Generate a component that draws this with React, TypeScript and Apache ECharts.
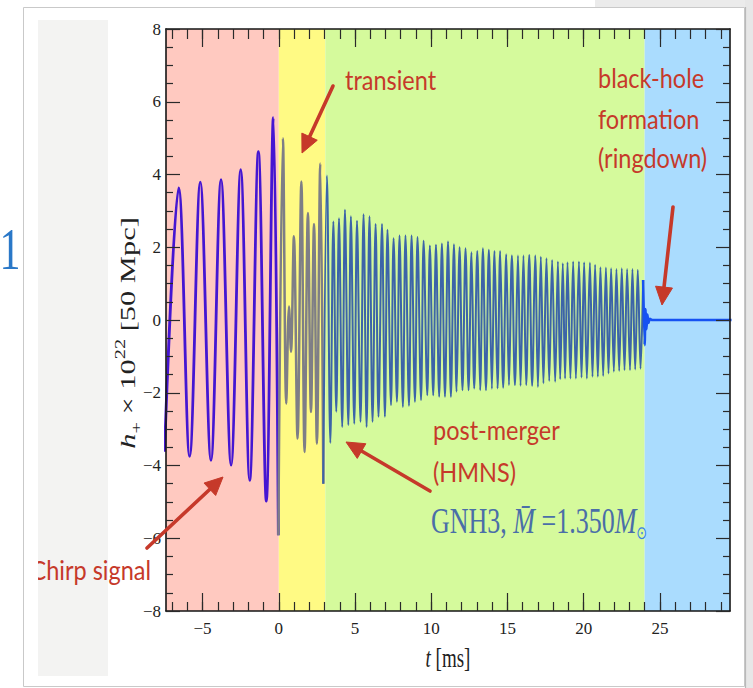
import React, { useEffect, useRef } from "react";
import * as echarts from "echarts";

const X_MIN = -7.4;
const X_MAX = 29.6;
const Y_MIN = -8;
const Y_MAX = 8;

// background phases (ms)
const regionStart = [X_MIN, 0, 3.05, 24.0];
const regionEnd = [0, 3.05, 24.0, X_MAX];

// tick positions
const xMajorTicks = [-5, 0, 5, 10, 15, 20, 25];
const xMinorTicks = [-7, -6, -5, -4, -3, -2, -1, 0, 1, 2, 3, 4, 5, 6, 7, 8, 9, 10, 11, 12, 13, 14, 15, 16, 17, 18, 19, 20, 21, 22, 23, 24, 25, 26, 27, 28, 29];

// inspiral (chirp) extrema
const chirpT = [-7.5, -6.57, -5.85, -5.15, -4.45, -3.79, -3.13, -2.5, -1.91, -1.34, -0.82, -0.36, -0.03];
const chirpH = [-3.62, 3.63, -3.75, 3.79, -3.86, 3.86, -3.99, 4.13, -4.41, 4.63, -4.98, 5.56, -5.92];

// merger transient extrema
const transientT = [-0.03, 0.27, 0.49, 0.67, 0.8, 0.99, 1.23, 1.48, 1.69, 1.91, 2.11, 2.31, 2.5, 2.72, 2.92];
const transientH = [-5.92, 5.0, -2.3, 0.37, -0.87, 2.3, -3.26, 3.81, -3.63, 2.94, -2.53, 2.64, -3.4, 4.3, -4.5];

// post-merger (HMNS) extrema
const postT = [2.92, 3.16, 3.38, 3.58, 3.77, 3.95, 4.16, 4.34, 4.56, 4.73, 4.95, 5.13, 5.36, 5.56, 5.76, 5.95, 6.15, 6.35, 6.54, 6.77, 6.96, 7.13, 7.36, 7.53, 7.75, 7.92, 8.14, 8.31, 8.54, 8.71, 8.93, 9.10, 9.33, 9.50, 9.74, 9.91, 10.13, 10.31, 10.52, 10.70, 10.90, 11.10, 11.29, 11.49, 11.66, 11.86, 12.05, 12.25, 12.45, 12.64, 12.82, 13.02, 13.21, 13.39, 13.59, 13.78, 13.98, 14.15, 14.35, 14.52, 14.72, 14.92, 15.10, 15.29, 15.49, 15.69, 15.86, 16.05, 16.23, 16.43, 16.62, 16.82, 17.00, 17.19, 17.36, 17.56, 17.74, 17.93, 18.13, 18.31, 18.46, 18.63, 18.78, 18.94, 19.13, 19.31, 19.49, 19.69, 19.86, 20.03, 20.21, 20.41, 20.58, 20.75, 20.93, 21.10, 21.28, 21.46, 21.63, 21.80, 21.98, 22.15, 22.33, 22.50, 22.68, 22.85, 23.04, 23.20, 23.38, 23.55, 23.73, 23.90];
const postH = [-4.50, 3.97, -3.38, 2.71, -2.52, 2.80, -2.94, 3.03, -2.89, 2.85, -2.85, 2.73, -2.80, 2.91, -2.94, 2.85, -2.80, 2.64, -2.66, 2.64, -2.66, 2.48, -2.34, 2.25, -2.25, 2.32, -2.39, 2.32, -2.36, 2.32, -2.25, 2.28, -2.20, 2.18, -2.07, 2.05, -2.07, 2.07, -2.11, 2.10, -2.11, 2.16, -2.11, 2.08, -1.97, 2.00, -1.93, 1.97, -1.93, 1.86, -1.88, 1.90, -1.93, 1.97, -1.93, 1.93, -1.89, 1.90, -1.88, 1.90, -1.86, 1.81, -1.79, 1.77, -1.79, 1.77, -1.81, 1.77, -1.79, 1.79, -1.81, 1.77, -1.84, 1.74, -1.74, 1.70, -1.68, 1.65, -1.70, 1.61, -1.63, 1.56, -1.61, 1.59, -1.61, 1.61, -1.61, 1.61, -1.58, 1.59, -1.61, 1.58, -1.56, 1.52, -1.56, 1.45, -1.54, 1.44, -1.47, 1.42, -1.42, 1.40, -1.40, 1.42, -1.38, 1.40, -1.38, 1.40, -1.36, 1.38, -1.34, 1.10];

// black-hole ringdown
const ringT = [23.9, 24.0, 24.06, 24.12, 24.18, 24.25, 24.35, 24.5, 29.7];
const ringH = [1.1, -0.69, 0.3, -0.25, 0.15, -0.08, 0.03, 0, 0];

const REGION_COLORS = ["#ffc9c0", "#fffa84", "#d5fa9c", "#aadcfe"];
const RED = "#c6392a";
const SERIF = "'Liberation Serif', 'DejaVu Serif', serif";
const SANS = "Lato, 'Open Sans', sans-serif";

const pairs = (t: number[], h: number[]) => t.map((v, i) => [v, h[i]]);
const fmt = (v: number) => (v < 0 ? "\u2212" + Math.abs(v) : String(v));

function arrow(x1: number, y1: number, x2: number, y2: number, head = 18, half = 8.5) {
  const dx = x2 - x1;
  const dy = y2 - y1;
  const L = Math.hypot(dx, dy);
  const ux = dx / L;
  const uy = dy / L;
  const bx = x2 - ux * head;
  const by = y2 - uy * head;
  const px = -uy;
  const py = ux;
  return [
    {
      type: "line",
      z: 100,
      shape: { x1, y1, x2: bx + ux * 3, y2: by + uy * 3 },
      style: { stroke: RED, lineWidth: 3.6, lineCap: "round" },
    },
    {
      type: "polygon",
      z: 100,
      shape: { points: [[x2, y2], [bx + px * half, by + py * half], [bx - px * half, by - py * half]] },
      style: { fill: RED, stroke: RED, lineWidth: 1, lineJoin: "round" },
    },
  ];
}

function redText(text: string, x: number, y: number, align = "left") {
  return {
    type: "text",
    z: 100,
    x,
    y,
    scaleY: 1.15,
    style: {
      x: 0,
      y: 0,
      text,
      fill: RED,
      fontSize: 23.5,
      fontFamily: SANS,
      align,
      verticalAlign: "middle",
      textAlign: align,
      textVerticalAlign: "middle",
    },
  };
}

const tickLine = { color: "#2a2a2a", width: 1.2 };
const borderLine = { color: "#151515", width: 1.6 };

function xAxisDef(position: string, ticks: number[], len: number, showLine: boolean, showLabel: boolean) {
  return {
    type: "value",
    min: X_MIN,
    max: X_MAX,
    position,
    z: 20,
    axisLine: { show: showLine, onZero: false, lineStyle: borderLine },
    axisTick: { show: true, inside: true, length: len, customValues: ticks, lineStyle: tickLine },
    axisLabel: {
      show: showLabel,
      customValues: ticks,
      formatter: fmt,
      margin: 9,
      fontFamily: SERIF,
      fontSize: 17,
      color: "#222",
    },
    splitLine: { show: false },
  };
}

function yAxisDef(position: string, showLabel: boolean) {
  return {
    type: "value",
    min: Y_MIN,
    max: Y_MAX,
    interval: 2,
    position,
    z: 20,
    axisLine: { show: true, onZero: false, lineStyle: borderLine },
    axisTick: { show: true, inside: true, length: 14, lineStyle: tickLine },
    minorTick: { show: true, splitNumber: 4, length: 7, lineStyle: tickLine },
    axisLabel: {
      show: showLabel,
      formatter: fmt,
      margin: 5,
      fontFamily: SERIF,
      fontSize: 17,
      color: "#222",
    },
    splitLine: { show: false },
    minorSplitLine: { show: false },
  };
}

export default function App() {
  const ref = useRef<HTMLDivElement>(null);

  useEffect(() => {
    document.body.style.margin = "0";
    if (!ref.current) return;
    const chart = echarts.init(ref.current, null, { renderer: "svg" });

    const lineSeries = (name: string, t: number[], h: number[], color: string, width: number, smooth: number) => ({
      name,
      type: "line",
      xAxisIndex: 0,
      yAxisIndex: 0,
      data: pairs(t, h),
      showSymbol: false,
      symbol: "none",
      smooth,
      clip: true,
      z: 3,
      lineStyle: { color, width, join: "round" },
      emphasis: { disabled: true },
    });

    const graphics: any[] = [
      // slide background pieces
      { type: "rect", z: -5, shape: { x: 595, y: 0, width: 158, height: 7 }, style: { fill: "#ebebeb" } },
      { type: "rect", z: -5, shape: { x: 745, y: 0, width: 8, height: 688 }, style: { fill: "#e7e7e7" } },
      { type: "rect", z: -4, shape: { x: 23.5, y: 7.5, width: 721, height: 679 }, style: { fill: "#ffffff", stroke: "#c9c9c9", lineWidth: 1 } },
      { type: "line", z: -4, shape: { x1: 745.5, y1: 7, x2: 745.5, y2: 688 }, style: { stroke: "#b9b9b9", lineWidth: 1.2 } },
      { type: "rect", z: -3, shape: { x: 38, y: 20, width: 70, height: 656 }, style: { fill: "#f3f3f2" } },
      {
        type: "text",
        z: 5,
        x: 10,
        y: 249,
        scaleY: 1.4,
        style: { x: 0, y: 0, text: "1", fill: "#2a78c8", fontSize: 42, fontFamily: SERIF, align: "center", verticalAlign: "middle", textAlign: "center", textVerticalAlign: "middle" },
      },
      // axis titles
      {
        type: "text",
        z: 10,
        x: 128,
        y: 333,
        rotation: Math.PI / 2,
        scaleX: 1.45,
        style: {
          x: 0,
          y: 0,
          text: "{i|h}{sub|+}{n| × 10}{sup|22}{n| [50 Mpc]}",
          fill: "#222",
          fontSize: 21,
          fontFamily: SERIF,
          align: "center",
          verticalAlign: "middle",
          textAlign: "center",
          textVerticalAlign: "middle",
          rich: {
            n: { fontSize: 21, fontFamily: SERIF, fill: "#222", lineHeight: 30 },
            i: { fontSize: 21, fontFamily: SERIF, fontStyle: "italic", fill: "#222", lineHeight: 30 },
            sub: { fontSize: 14, fontFamily: SERIF, fill: "#222", lineHeight: 16, verticalAlign: "bottom" },
            sup: { fontSize: 14, fontFamily: SERIF, fill: "#222", lineHeight: 16, verticalAlign: "top" },
          },
        },
      },
      {
        type: "text",
        z: 10,
        x: 448,
        y: 658,
        scaleY: 1.45,
        style: {
          x: 0,
          y: 0,
          text: "{i|t} [ms]",
          fill: "#222",
          fontSize: 19,
          fontFamily: SERIF,
          align: "center",
          verticalAlign: "middle",
          textAlign: "center",
          textVerticalAlign: "middle",
          rich: {
            i: { fontSize: 19, fontFamily: SERIF, fontStyle: "italic", fill: "#222" },
          },
        },
      },
      // model label
      {
        type: "text",
        z: 100,
        x: 431,
        y: 521,
        scaleY: 1.4,
        style: {
          x: 0,
          y: 0,
          text: "GNH3, {i|M\u0304} =1.350{i|M}{sun|\u2299}",
          fill: "#4a6ea8",
          fontSize: 26,
          fontFamily: SERIF,
          align: "left",
          verticalAlign: "middle",
          textAlign: "left",
          textVerticalAlign: "middle",
          rich: {
            i: { fontSize: 26, fontFamily: SERIF, fontStyle: "italic", fill: "#4a6ea8", lineHeight: 30 },
            sun: { fontSize: 13, fontFamily: "'DejaVu Sans', sans-serif", fill: "#3b7fe6", lineHeight: 14, verticalAlign: "bottom" },
          },
        },
      },
      // annotations
      redText("transient", 345, 79),
      redText("black-hole", 598, 77),
      redText("formation", 598, 118),
      redText("(ringdown)", 598, 157),
      redText("post-merger", 433, 429),
      redText("(HMNS)", 433, 471),
      redText("Chirp signal", 151, 569, "right"),
      { type: "rect", z: 101, shape: { x: 24.5, y: 548, width: 13.5, height: 42 }, style: { fill: "#ffffff" } },
      ...arrow(333, 86, 302, 153),
      ...arrow(673, 207, 662, 305),
      ...arrow(430, 491, 346, 442),
      ...arrow(147, 548, 223, 477),
    ];

    chart.setOption({
      animation: false,
      grid: { left: 166, right: 23, top: 29, bottom: 77, containLabel: false },
      xAxis: [
        xAxisDef("bottom", xMajorTicks, 18, true, true),
        xAxisDef("bottom", xMinorTicks, 9, false, false),
        xAxisDef("top", xMajorTicks, 18, true, false),
        xAxisDef("top", xMinorTicks, 10, false, false),
      ],
      yAxis: [yAxisDef("left", true), yAxisDef("right", false)],
      series: [
        {
          type: "line",
          data: [[X_MIN, 0]],
          showSymbol: false,
          symbol: "none",
          lineStyle: { width: 0, opacity: 0 },
          z: 1,
          silent: true,
          markArea: {
            silent: true,
            data: regionStart.map((s, i) => [
              { xAxis: s, yAxis: Y_MIN, itemStyle: { color: REGION_COLORS[i], opacity: 1 } },
              { xAxis: regionEnd[i], yAxis: Y_MAX },
            ]),
          },
        },
        lineSeries("chirp", chirpT, chirpH, "#4516d2", 2.8, 0.36),
        lineSeries("transient", transientT, transientH, "#7e7e86", 2.5, 0.36),
        lineSeries("post-merger", postT, postH, "#3c64a8", 2.0, 0.36),
        lineSeries("ringdown", ringT, ringH, "#1652f2", 2.6, 0.2),
      ],
      graphic: graphics,
    });

    return () => chart.dispose();
  }, []);

  return <div ref={ref} style={{ width: 753, height: 688 }} />;
}
